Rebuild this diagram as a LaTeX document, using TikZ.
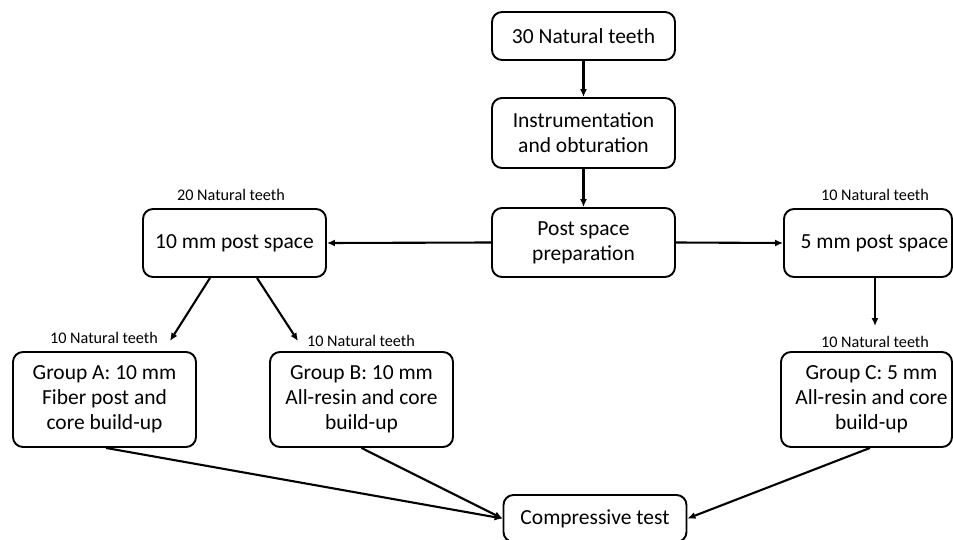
\documentclass[tikz,border=0pt]{standalone}
\usepackage{fontspec}
\setmainfont{Carlito}
\usetikzlibrary{arrows.meta,calc}
\begin{document}
\begin{tikzpicture}[x=1pt,y=-1pt,
  boxtext/.style={align=center, font=\fontsize{21.5}{25}\selectfont},
  box/.style={draw, line width=1.9pt, rounded corners=10pt, minimum width=183pt, inner sep=0pt, boxtext},
  lbl/.style={font=\fontsize{16.2}{19}\selectfont, inner sep=1pt},
  arr/.style={line width=2.1pt, -{Latex[length=8pt,width=7pt]}}]
\clip (0,0) rectangle (953,540);
\fill[white] (0,0) rectangle (953,540);
% boxes
\node[box, minimum height=48pt] (n30) at (583.5,36) {30 Natural teeth};
\node[box, minimum height=70pt] (instr) at (583.5,133) {Instrumentation\\and obturation};
\node[box, minimum height=69pt] (prep) at (583.5,242.5) {Post space\\preparation};
\node[box, minimum height=68pt] (p10) at (234.5,243) {10 mm post space};
\node[box, minimum height=68pt, minimum width=168pt] (p5) at (868,243) {\hspace*{13pt}5 mm post space};
\node[box, minimum height=95pt] (gA) at (104.5,399.5) {Group A: 10 mm\\Fiber post and\\core build-up};
\node[box, minimum height=95pt] (gB) at (361.5,399.5) {Group B: 10 mm\\All-resin and core\\build-up};
\node[box, minimum height=95pt, minimum width=171pt] (gC) at (866.5,399.5) {};
\node[boxtext, inner sep=0pt] (gCt) at (871.5,399.5) {Group C: 5 mm\\All-resin and core\\build-up};
\node[box, minimum height=47pt] (ct) at (595,518.5) {Compressive test};
% labels
\node[lbl] (l20) at (231,195) {20 Natural teeth};
\node[lbl] (l10) at (875,195) {10 Natural teeth};
\node[lbl] (lA) at (104,338) {10 Natural teeth};
\node[lbl] (lB) at (361,341) {10 Natural teeth};
\node[lbl] (lC) at (875,342) {10 Natural teeth};
% free arrow ends
\coordinate (tA) at (170,341);
\coordinate (tB) at (298,341);
\coordinate (tC) at (875,326);
% connectors
\draw[arr] (n30) -- (instr);
\draw[arr] (instr) -- (prep);
\draw[arr] (prep.west) -- (p10.east);
\draw[arr] (prep.east) -- (p5.west);
\draw[arr] ($(p10.south)+(-24.5,0)$) -- (tA);
\draw[arr] ($(p10.south)+(22.5,0)$) -- (tB);
\draw[arr] (p5.south -| tC) -- (tC);
\draw[arr] ($(gA.south)+(1.5,0)$) -- (ct.west);
\draw[arr] (gB.south) -- (ct.west);
\draw[arr] ($(gC.south)+(3.5,0)$) -- (ct.east);
\end{tikzpicture}
\end{document}
